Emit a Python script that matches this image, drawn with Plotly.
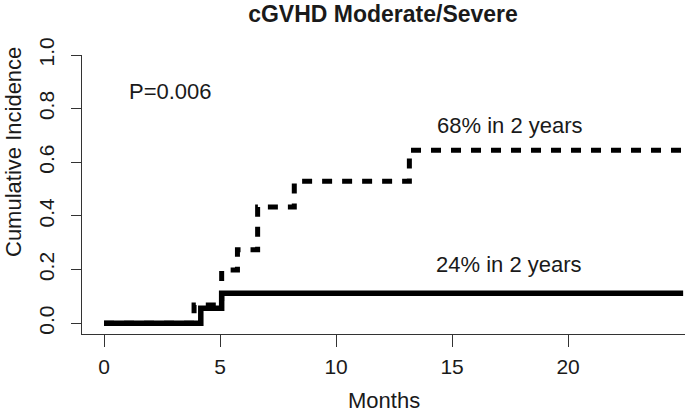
import plotly.graph_objects as go

# Data (months, cumulative incidence)
solid_months = [0, 4.17, 5.07, 24.96]
solid_ci = [0, 0.056, 0.112, 0.112]
dashed_months = [0, 3.88, 5.07, 5.75, 6.62, 8.20, 13.16, 24.96]
dashed_ci = [0, 0.068, 0.199, 0.274, 0.433, 0.529, 0.645, 0.645]

x_ticks = [0, 5, 10, 15, 20]
y_ticks = [0.0, 0.2, 0.4, 0.6, 0.8, 1.0]
y_tick_labels = ["0.0", "0.2", "0.4", "0.6", "0.8", "1.0"]

title_text = "cGVHD Moderate/Severe"
p_text = "P=0.006"
label_dashed = "68% in 2 years"
label_solid = "24% in 2 years"

FONT = "Liberation Sans, Arial, sans-serif"
W, H = 685, 413
ML, MR, MT, MB = 82, 0, 55, 79

fig = go.Figure()
fig.add_trace(go.Scatter(x=dashed_months, y=dashed_ci, mode="lines", line_shape="hv",
                         line=dict(color="black", width=5, dash="10px,10px"),
                         showlegend=False, hoverinfo="skip"))
fig.add_trace(go.Scatter(x=solid_months, y=solid_ci, mode="lines", line_shape="hv",
                         line=dict(color="black", width=5.5),
                         showlegend=False, hoverinfo="skip"))

axis_col = "#333333"
fig.update_xaxes(range=[-0.95, 25.04], tickvals=x_ticks, ticks="outside", ticklen=12,
                 tickwidth=1.3, tickcolor=axis_col, showline=True, linecolor=axis_col,
                 linewidth=1.3, showgrid=False, zeroline=False,
                 tickfont=dict(family=FONT, size=21, color="#1a1a1a"),
                 ticklabelstandoff=2)
fig.update_yaxes(range=[-0.04, 1.0], tickvals=y_ticks, ticktext=y_tick_labels,
                 ticks="outside", ticklen=10, tickwidth=1.3, tickcolor=axis_col,
                 showline=True, linecolor=axis_col, linewidth=1.3, showgrid=False,
                 zeroline=False, tickangle=-90,
                 tickfont=dict(family=FONT, size=21, color="#1a1a1a"),
                 ticklabelstandoff=8)

def px_to_paper_x(px):
    return (px - ML) / (W - ML - MR)

def px_to_paper_y(py):
    return (H - MB - py) / (H - MT - MB)

annos = [
    dict(text=p_text, x=0.99, y=0.864, xref="x", yref="y", xanchor="left", yanchor="middle",
         font=dict(family=FONT, size=22, color="#1a1a1a"), showarrow=False),
    dict(text=label_dashed, x=14.27, y=0.737, xref="x", yref="y", xanchor="left", yanchor="middle",
         font=dict(family=FONT, size=22, color="#1a1a1a"), showarrow=False),
    dict(text=label_solid, x=14.23, y=0.218, xref="x", yref="y", xanchor="left", yanchor="middle",
         font=dict(family=FONT, size=22, color="#1a1a1a"), showarrow=False),
    dict(text="Months", x=px_to_paper_x(384), y=px_to_paper_y(400), xref="paper", yref="paper",
         xanchor="center", yanchor="middle",
         font=dict(family=FONT, size=22, color="#1a1a1a"), showarrow=False),
    dict(text="Cumulative Incidence", x=px_to_paper_x(13), y=px_to_paper_y(152), xref="paper",
         yref="paper", xanchor="center", yanchor="middle", textangle=-90,
         font=dict(family=FONT, size=22, color="#1a1a1a"), showarrow=False),
]

fig.update_layout(
    width=W, height=H,
    margin=dict(l=ML, r=MR, t=MT, b=MB),
    paper_bgcolor="white", plot_bgcolor="white",
    title=dict(text="<b>" + title_text + "</b>", x=383 / W, xanchor="center",
               y=1 - 14 / H, yanchor="middle",
               font=dict(family=FONT, size=23, color="#1a1a1a")),
    annotations=annos,
)

fig.write_html("out.html", config={"displayModeBar": False},
               post_script="document.body.style.margin='0';document.body.style.overflow='hidden';")
